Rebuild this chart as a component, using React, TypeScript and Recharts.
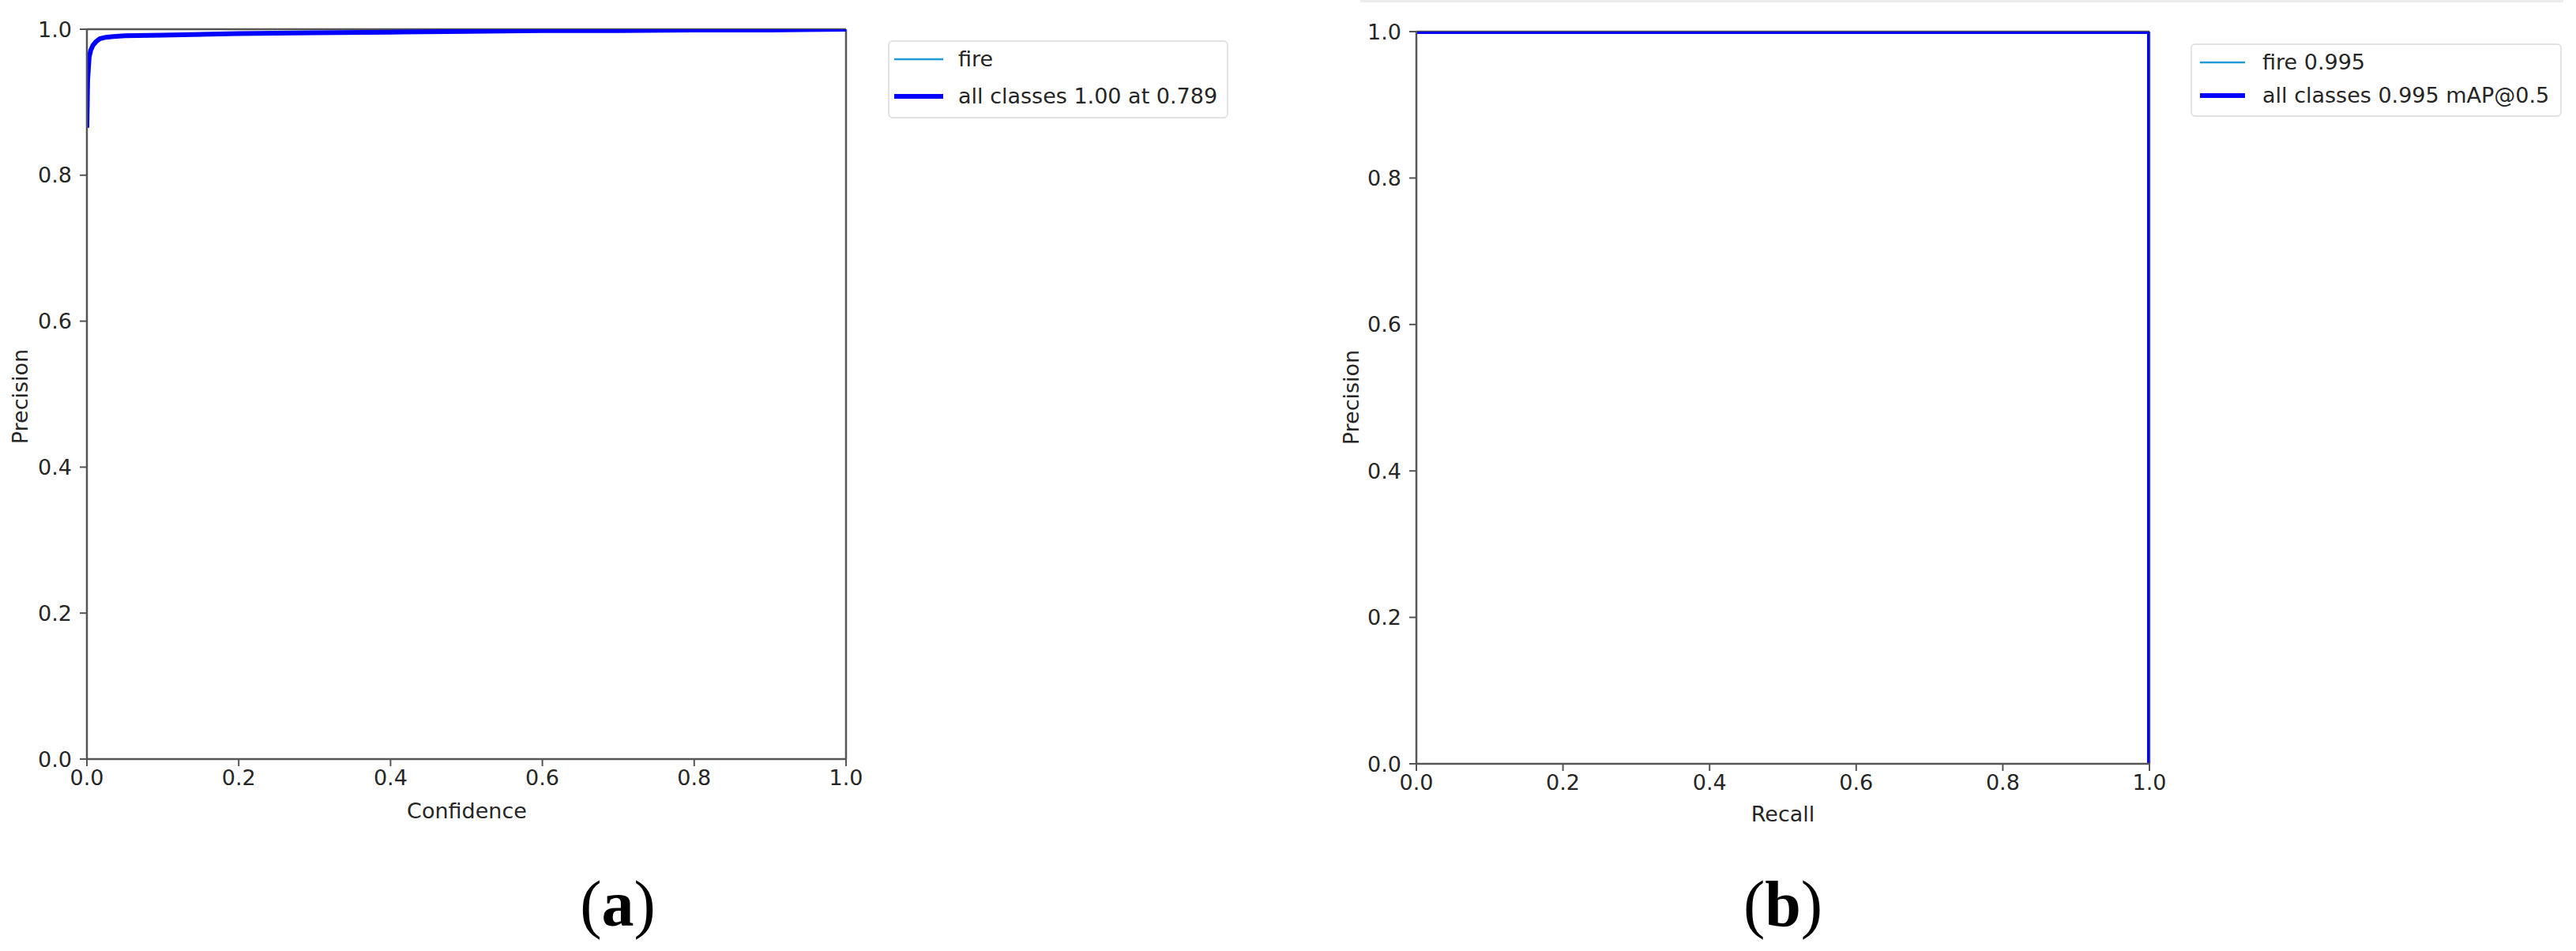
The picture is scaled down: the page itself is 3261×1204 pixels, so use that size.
import React from 'react';
import { LineChart, Line, XAxis, YAxis, ReferenceLine } from 'recharts';

// ── Data ─────────────────────────────────────────────────────────────────
const ticks = [0, 0.2, 0.4, 0.6, 0.8, 1.0];

// (a) precision vs confidence
const confidence = [0, 0.001, 0.003, 0.005, 0.008, 0.012, 0.017, 0.025, 0.035, 0.05, 0.1, 0.2, 0.3, 0.4, 0.5, 0.6, 0.7, 0.8, 0.9, 1.0];
const firePrecisionA = [0.865, 0.93, 0.962, 0.971, 0.978, 0.983, 0.987, 0.989, 0.99, 0.991, 0.992, 0.994, 0.995, 0.996, 0.997, 0.998, 0.998, 0.999, 0.999, 1.0];
const allPrecisionA = [0.865, 0.93, 0.962, 0.971, 0.978, 0.983, 0.987, 0.989, 0.99, 0.991, 0.992, 0.994, 0.995, 0.996, 0.997, 0.998, 0.998, 0.999, 0.999, 1.0];

// (b) precision vs recall
const recall = [0, 0.5, 1.0, 1.0];
const firePrecisionB = [1.0, 1.0, 1.0, 0];
const allPrecisionB = [1.0, 1.0, 1.0, 0];

const legendA = ['fire', 'all classes 1.00 at 0.789'];
const legendB = ['fire 0.995', 'all classes 0.995 mAP@0.5'];

const FIRE = '#1f9bd7';
const ALL = '#0000ff';
const SPINE = '#555';
const TEXT = '#262626';
const FONT = 'DejaVu Sans';

const dataA = confidence.map((c, i) => ({ x: c, fire: firePrecisionA[i], all: allPrecisionA[i] }));
const dataB = recall.map((r, i) => ({ x: r, fire: firePrecisionB[i], all: allPrecisionB[i] }));

const tickStyle = { fill: TEXT, fontSize: 27, fontFamily: FONT };
const fmt = (v: number) => v.toFixed(1);

// ── One matplotlib-looking panel ─────────────────────────────────────────
function Panel({ data, width, height, margin }: { data: any[]; width: number; height: number; margin: any }) {
  return (
    <LineChart width={width} height={height} data={data} margin={margin}>
      <XAxis
        type="number" dataKey="x" domain={[0, 1]} ticks={ticks} allowDataOverflow
        tickFormatter={fmt} tick={tickStyle} tickSize={9} tickMargin={5} height={30}
        axisLine={{ stroke: SPINE, strokeWidth: 2.5 }} tickLine={{ stroke: SPINE, strokeWidth: 2 }}
      />
      <YAxis
        type="number" domain={[0, 1]} ticks={ticks} allowDataOverflow
        tickFormatter={fmt} tick={tickStyle} tickSize={9} tickMargin={10} width={60}
        axisLine={{ stroke: SPINE, strokeWidth: 2.5 }} tickLine={{ stroke: SPINE, strokeWidth: 2 }}
      />
      <ReferenceLine y={1} stroke={SPINE} strokeWidth={2.5} />
      <ReferenceLine x={1} stroke={SPINE} strokeWidth={2.5} />
      <Line type="linear" dataKey="fire" stroke={FIRE} strokeWidth={2.5} dot={false} isAnimationActive={false} />
      <Line type="linear" dataKey="all" stroke={ALL} strokeWidth={6} dot={false} isAnimationActive={false} />
    </LineChart>
  );
}

function LegendBox({ labels, left, top, width, height, rows, lineX, textX }: any) {
  return (
    <div style={{
      position: 'absolute', left, top, width, height, boxSizing: 'border-box',
      border: '2px solid #e2e2e2', borderRadius: 6, background: '#fff',
      fontFamily: FONT, fontSize: 27, color: TEXT,
    }}>
      {labels.map((l: string, i: number) => (
        <div key={i} style={{ position: 'absolute', left: 0, top: rows[i] - 18, height: 36, width: '100%' }}>
          <svg width={lineX[1] + 2} height={36} style={{ position: 'absolute', left: 0, top: 0 }}>
            <line x1={lineX[0]} x2={lineX[1]} y1={18} y2={18} stroke={i === 0 ? FIRE : ALL} strokeWidth={i === 0 ? 2.5 : 6} />
          </svg>
          <span style={{ position: 'absolute', left: textX, top: 0, lineHeight: '36px', whiteSpace: 'nowrap' }}>{l}</span>
        </div>
      ))}
    </div>
  );
}

export default function App() {
  return (
    <div style={{ position: 'absolute', left: 0, top: 0, width: 3261, height: 1204, background: '#fff', fontFamily: FONT, overflow: 'hidden' }}>
      <div style={{ position: 'absolute', left: 1722, top: 0, width: 1523, height: 3, background: '#ececec' }} />

      <div style={{ position: 'absolute', left: 0, top: 0 }}>
        <Panel data={dataA} width={1100} height={1000} margin={{ top: 37, right: 29, bottom: 9, left: 50 }} />
      </div>
      <div style={{ position: 'absolute', left: 1700, top: 0 }}>
        <Panel data={dataB} width={1050} height={1010} margin={{ top: 40, right: 29, bottom: 13, left: 33 }} />
      </div>

      <LegendBox labels={legendA} left={1124} top={51} width={431} height={99} rows={[22, 69]} lineX={[6, 68]} textX={87} />
      <LegendBox labels={legendB} left={2773} top={55} width={470} height={93} rows={[22, 64]} lineX={[10, 67]} textX={89} />

      <svg width={3261} height={1204} style={{ position: 'absolute', left: 0, top: 0, pointerEvents: 'none' }}>
        <g fill={TEXT} fontFamily={FONT} fontSize={27}>
          <text x={591} y={1036} textAnchor="middle">Confidence</text>
          <text x={2257} y={1040} textAnchor="middle">Recall</text>
          <text x={35} y={502} textAnchor="middle" transform="rotate(-90 35 502)">Precision</text>
          <text x={1720} y={503} textAnchor="middle" transform="rotate(-90 1720 503)">Precision</text>
        </g>
        <g fill="#000" fontFamily="Liberation Serif" fontSize={82}>
          <text x={782} y={1172} textAnchor="middle">(<tspan fontWeight="bold">a</tspan>)</text>
          <text x={2257} y={1172} textAnchor="middle">(<tspan fontWeight="bold">b</tspan>)</text>
        </g>
      </svg>
    </div>
  );
}
